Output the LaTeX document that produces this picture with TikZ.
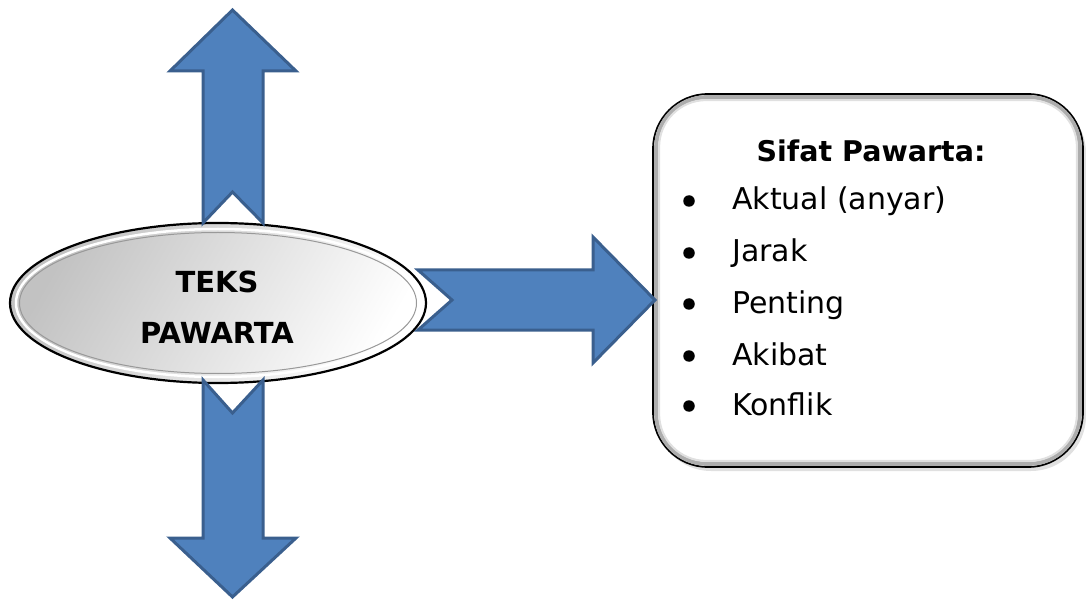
\documentclass[tikz,border=0pt]{standalone}
\usepackage{fontspec}
\setmainfont{DejaVu Sans}
\usetikzlibrary{shapes.geometric,calc}
\definecolor{arrowfill}{HTML}{4F81BD}
\definecolor{arrowline}{HTML}{3A5F8E}
\tikzset{
  blockarrow/.style={fill=arrowfill, draw=arrowline, line width=3pt, line join=miter},
  itemtext/.style={anchor=base west, font=\fontsize{30}{36}\selectfont, inner sep=0pt},
  titletext/.style={anchor=base, font=\bfseries\fontsize{28.5}{34}\selectfont, inner sep=0pt},
  ovaltext/.style={anchor=base, font=\bfseries\fontsize{29}{34}\selectfont, inner sep=0pt},
  bulletdot/.style={circle, fill=black, minimum size=11.5pt, inner sep=0pt},
}
\begin{document}
\begin{tikzpicture}[x=1pt,y=-1pt]
\useasboundingbox (0,0) rectangle (1086,601);
% info box
\fill[black!12] (656,98) [rounded corners=55pt] rectangle (1086,471);
\node (box) [draw=black, line width=1.8pt, fill=white, rounded corners=55pt,
  minimum width=430pt, minimum height=373pt, inner sep=0pt] at (868,280.5) {};
\draw[black!32, line width=4pt, rounded corners=51pt]
  ($(box.south west)+(4,-4)$) rectangle ($(box.north east)+(-4,4)$);
\draw[black!12, line width=2pt, rounded corners=47pt]
  ($(box.south west)+(7,-7)$) rectangle ($(box.north east)+(-7,7)$);
% oval
\node (oval) [ellipse, draw=black, line width=2.2pt, shading=axis, left color=black!24,
  right color=white, shading angle=60,
  minimum width=416pt, minimum height=160pt, inner sep=0pt] at (218,303) {};
\draw[white, line width=2.5pt] (oval.center) ellipse [x radius=202pt, y radius=74pt];
\draw[black!40, line width=1pt] (oval.center) ellipse [x radius=198.5pt, y radius=70.5pt];
\node (t1) [ovaltext] at (217,293) {TEKS};
\node (t2) [ovaltext] at (217,343) {PAWARTA};
% arrows
\draw[blockarrow] (203,223) -- (203,71) -- (170,71) -- (232.5,10) -- (296,71)
  -- (263,71) -- (263,223) -- (232.5,192) -- cycle;
\draw[blockarrow] (203,380) -- (232.5,413) -- (263,380) -- (263,538) -- (296,538)
  -- (232.5,597) -- (170,538) -- (203,538) -- cycle;
\draw[blockarrow] (418,270) -- (593,270) -- (593,237) -- (655,300) -- (593,363)
  -- (593,330) -- (418,330) -- (452,300) -- cycle;
% texts in box
\node (title) [titletext] at (871,162) {Sifat Pawarta:};
\node (b1) [bulletdot] at (689,201) {};
\node (i1) [itemtext] at (732,210) {Aktual (anyar)};
\node (b2) [bulletdot] at (689,253) {};
\node (i2) [itemtext] at (732,262) {Jarak};
\node (b3) [bulletdot] at (689,304) {};
\node (i3) [itemtext] at (732,313) {Penting};
\node (b4) [bulletdot] at (689,356) {};
\node (i4) [itemtext] at (732,365) {Akibat};
\node (b5) [bulletdot] at (689,406) {};
\node (i5) [itemtext] at (732,415) {Konflik};
\end{tikzpicture}
\end{document}
